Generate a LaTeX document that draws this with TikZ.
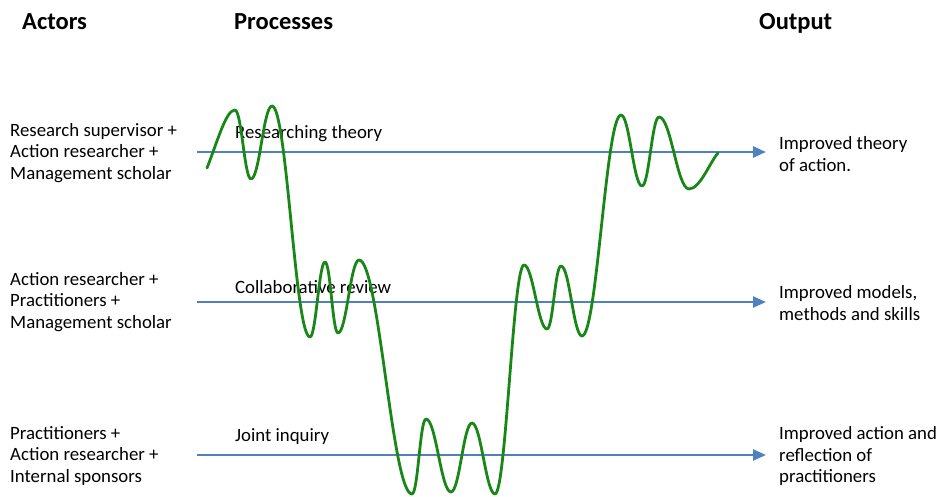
\documentclass[tikz,border=0pt]{standalone}
\usepackage{fontspec}
\setmainfont{Carlito}
\usetikzlibrary{arrows.meta}
\definecolor{flowblue}{RGB}{79,129,189}
\definecolor{wavegreen}{RGB}{24,135,24}
\tikzset{>={Triangle[length=13pt,width=11pt]},
  header/.style={font=\fontsize{24.5}{26}\selectfont\bfseries, inner sep=0pt, anchor=base west},
  label/.style={font=\fontsize{18.8}{21.7}\selectfont, align=left, inner sep=0pt, anchor=west},
  flow/.style={->, draw=flowblue, fill=flowblue, line width=2.4pt},
  wave/.style={draw=wavegreen, line width=2.8pt, line cap=round, line join=round}}

\begin{document}
\begin{tikzpicture}[x=1pt,y=-1pt]
\useasboundingbox (0,0) rectangle (941,497);
% Column headers
\node[header] (hact)  at (22,30)  {Actors};
\node[header] (hproc) at (234,30) {Processes};
\node[header] (hout)  at (759,30) {Output};

% Actors
\node[label] (act1) at (10,153) {Research supervisor +\\Action researcher +\\Management scholar};
\node[label] (act2) at (10,302) {Action researcher +\\Practitioners +\\Management scholar};
\node[label] (act3) at (10,456) {Practitioners +\\Action researcher +\\Internal sponsors};

% Outputs
\node[label] (out1) at (779,154) {Improved theory\\of action.};
\node[label] (out2) at (779,303) {Improved models,\\methods and skills};
\node[label] (out3) at (779,456) {Improved action and\\reflection of\\practitioners};

% Process arrows
\coordinate (s1) at (197,152);
\coordinate (e1) at (766,152);
\coordinate (s2) at (197,302);
\coordinate (e2) at (766,302);
\coordinate (s3) at (197,455);
\coordinate (e3) at (766,455);
\draw [flow] (s1) -- (e1);
\draw [flow] (s2) -- (e2);
\draw [flow] (s3) -- (e3);

\node[label] (proc1) at (235,134) {Researching theory};
\node[label] (proc2) at (235,287) {Collaborative review};
\node[label] (proc3) at (235,437) {Joint inquiry};

% Wave through the levels
\draw [wave] (207,168) .. controls (218,140) and (226,110) .. (235,110)
  .. controls +(6.5,0) and +(-6.5,0) .. (251,179)
  .. controls +(8.5,0) and +(-8.5,0) .. (272,106)
  .. controls +(15,0) and +(-15,0) .. (310,337)
  .. controls +(6,0) and +(-6,0) .. (325,262)
  .. controls +(5.5,0) and +(-5.5,0) .. (338,333)
  .. controls +(8.5,0) and +(-8.5,0) .. (359,260)
  .. controls +(20,0) and +(-20,0) .. (412,494)
  .. controls +(6,0) and +(-6,0) .. (426,419)
  .. controls +(10,0) and +(-10,0) .. (451,492)
  .. controls +(8.5,0) and +(-8.5,0) .. (472,423)
  .. controls +(9,0) and +(-9,0) .. (495,494)
  .. controls +(11,0) and +(-11,0) .. (524,265)
  .. controls +(9,0) and +(-9,0) .. (547,329)
  .. controls +(6,0) and +(-6,0) .. (561,266)
  .. controls +(8.5,0) and +(-8.5,0) .. (582,336)
  .. controls +(15,0) and +(-15,0) .. (621,115)
  .. controls +(8.5,0) and +(-8.5,0) .. (642,186)
  .. controls +(7,0) and +(-7,0) .. (659,117)
  .. controls +(12,0) and +(-12,0) .. (689,189)
  .. controls (700,189) and (710,162) .. (718,153);
\end{tikzpicture}
\end{document}
